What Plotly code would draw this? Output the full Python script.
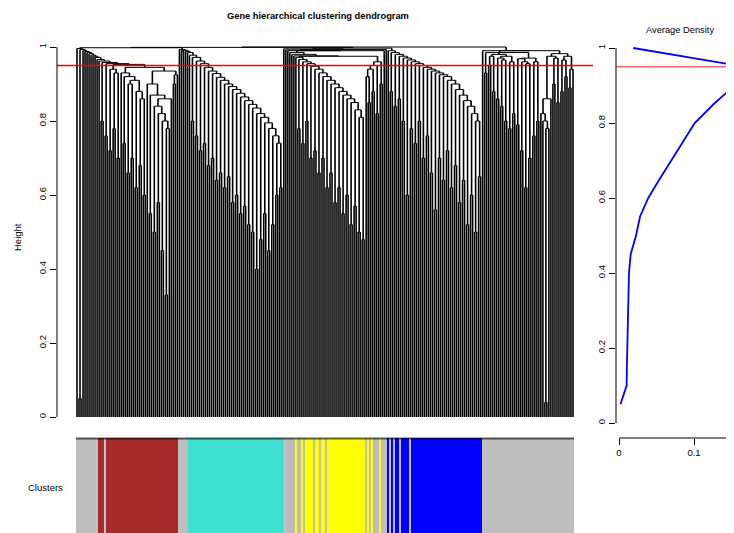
import plotly.graph_objects as go

# the page body keeps its default 8px margin, so the figure is laid out 8px in
OFF = 8
W, H = 734 - OFF, 533 - OFF

# ---------------- data ----------------
# merge heights between neighbouring leaves, per block
heights_A = [0.996, 0.05, 0.993, 0.990, 0.988, 0.985, 0.982, 0.978, 0.975, 0.972,
             0.966, 0.962, 0.80, 0.958, 0.76, 0.955, 0.72, 0.94, 0.78, 0.93,
             0.70, 0.953, 0.93, 0.74, 0.92, 0.66, 0.90, 0.70, 0.91, 0.62,
             0.88, 0.68, 0.86, 0.60, 0.945, 0.90, 0.55, 0.87, 0.50, 0.84,
             0.58, 0.82, 0.45, 0.80, 0.33, 0.78, 0.86, 0.935, 0.90, 0.925]
heights_B = [0.993, 0.990, 0.991, 0.988, 0.985,
             0.978, 0.80, 0.972, 0.76, 0.962, 0.72, 0.955, 0.74, 0.945, 0.68,
             0.935, 0.70, 0.928, 0.64, 0.918, 0.66, 0.91, 0.62, 0.90, 0.65,
             0.893, 0.58, 0.885, 0.60, 0.875, 0.55, 0.865, 0.57, 0.855, 0.52,
             0.845, 0.50, 0.835, 0.40, 0.82, 0.48, 0.81, 0.55, 0.795, 0.45,
             0.78, 0.52, 0.76, 0.60, 0.74, 0.62]
heights_C = [0.995, 0.992, 0.99, 0.985, 0.98, 0.976,
             0.972, 0.78, 0.966, 0.74, 0.96, 0.80, 0.955, 0.70, 0.948, 0.72,
             0.94, 0.66, 0.93, 0.70, 0.92, 0.62, 0.91, 0.66, 0.90, 0.58,
             0.89, 0.62, 0.88, 0.55, 0.87, 0.60, 0.86, 0.52, 0.85, 0.57,
             0.83, 0.50, 0.81, 0.48,
             0.975,
             0.92, 0.85, 0.94, 0.88, 0.95, 0.82, 0.96, 0.90, 0.99, 0.993]
heights_D = [0.99, 0.88, 0.985, 0.84, 0.98, 0.86, 0.975, 0.80, 0.97, 0.60,
             0.965, 0.78, 0.96, 0.74, 0.955, 0.80, 0.95, 0.70, 0.945, 0.76,
             0.94, 0.66, 0.935, 0.56, 0.93, 0.70, 0.925, 0.64, 0.92, 0.72,
             0.91, 0.62, 0.90, 0.68, 0.885, 0.58, 0.87, 0.64, 0.855, 0.52,
             0.84, 0.60, 0.82, 0.50, 0.80, 0.65]
heights_E = [0.99, 0.93, 0.985, 0.95, 0.975, 0.88, 0.98, 0.86, 0.97, 0.84,
             0.965, 0.80, 0.975, 0.78, 0.96, 0.82, 0.985, 0.79, 0.968, 0.72,
             0.96, 0.62, 0.955, 0.70, 0.97, 0.76, 0.96, 0.80, 0.99, 0.82,
             0.80, 0.04, 0.78, 0.86, 0.975, 0.90, 0.97, 0.85, 0.982, 0.88,
             0.965, 0.92, 0.975, 0.89, 0.94]
top_level_merges = [0.998, 0.999, 0.997, 1.0]

# module colour strip: (colour, number of leaves), left to right
palette = ["grey", "brown", "turquoise", "yellow", "blue"]
palette_hex = ["#BEBEBE", "#A52A2A", "#40E0D0", "#FFFF00", "#0000FF"]
module_runs = [("grey", 11), ("brown", 3), ("grey", 1), ("brown", 36), ("grey", 5),
               ("turquoise", 47), ("grey", 6),
               ("yellow", 1), ("grey", 2), ("yellow", 1), ("grey", 1), ("yellow", 4),
               ("grey", 1), ("yellow", 2), ("grey", 1), ("yellow", 2), ("grey", 1),
               ("yellow", 19), ("grey", 1), ("yellow", 1), ("grey", 1), ("yellow", 1),
               ("grey", 3), ("yellow", 1), ("grey", 3),
               ("blue", 1), ("grey", 1), ("blue", 1), ("grey", 1), ("blue", 2),
               ("grey", 1), ("blue", 4), ("grey", 1), ("blue", 1),
               ("blue", 34), ("grey", 46)]

# average density versus cut height
cut_heights = [0.05, 0.10, 0.15, 0.20, 0.25, 0.30, 0.35, 0.40, 0.45, 0.50,
               0.55, 0.60, 0.65, 0.70, 0.75, 0.80, 0.85, 0.90, 0.95, 1.00]
avg_density = [0.002, 0.0102, 0.0105, 0.0109, 0.0112, 0.0116, 0.0124, 0.0133, 0.0156, 0.0227,
               0.028, 0.039, 0.054, 0.070, 0.086, 0.101, 0.126, 0.154, 0.168, 0.019]
cut_line = 0.95

y_ticks = [0, 0.2, 0.4, 0.6, 0.8, 1]
y_ticktext = ["0", "0.2", "0.4", "0.6", "0.8", "1"]
dens_ticks = [0, 0.1, 0.2]
dens_ticktext = ["0", "0.1", "0.2"]

# ---------------- dendrogram layout ----------------
adj = (heights_A + [top_level_merges[0]] + heights_B + [top_level_merges[1]] +
       heights_C + [top_level_merges[2]] + heights_D + [top_level_merges[3]] + heights_E)
N = len(adj) + 1

vx, vy, hx, hy = [], [], [], []


def build(a, b):
    if a == b:
        return float(a), 0.0
    seg = adj[a:b]
    k = a + seg.index(max(seg))
    xl, yl = build(a, k)
    xr, yr = build(k + 1, b)
    hh = adj[k]
    vx.extend([xl, xl, None, xr, xr, None])
    vy.extend([yl, hh, None, yr, hh, None])
    hx.extend([xl, xr, None])
    hy.extend([hh, hh, None])
    return (xl + xr) / 2.0, hh


build(0, N - 1)

codes = []
for name, cnt in module_runs:
    codes.extend([palette.index(name)] * cnt)

cs = []
n = len(palette_hex)
for i, c in enumerate(palette_hex):
    cs.append([i / n, c])
    cs.append([(i + 1) / n, c])

# ---------------- geometry (window pixels -> paper) ----------------
def px(p):
    return (p - OFF) / W


def py(p):
    return 1 - (p - OFF) / H


leaf0, leafN = 77.0, 573.0
step = (leafN - leaf0) / (N - 1)
xr_lo = -(leaf0 - 57) / step
xr_hi = (N - 1) + (593 - leafN) / step
dens_lo, dens_hi = -3 / 750, 115 / 750

FONT = "Liberation Sans"

fig = go.Figure()
fig.add_trace(go.Scatter(x=vx, y=vy, mode="lines", line=dict(color="black", width=1.6),
                         xaxis="x", yaxis="y", hoverinfo="skip", showlegend=False))
fig.add_trace(go.Scatter(x=hx, y=hy, mode="lines", line=dict(color="black", width=1.0),
                         xaxis="x", yaxis="y", hoverinfo="skip", showlegend=False))
# cut height line across the dendrogram panel
fig.add_trace(go.Scatter(x=[xr_lo, xr_hi], y=[cut_line, cut_line], mode="lines",
                         line=dict(color="#FF0000", width=1.5), xaxis="x", yaxis="y",
                         hoverinfo="skip", showlegend=False, cliponaxis=False))
fig.add_trace(go.Heatmap(z=[codes], x=list(range(N)), y=[0], colorscale=cs, zmin=0,
                         zmax=n - 1, showscale=False, xaxis="x2", yaxis="y2",
                         hoverinfo="skip"))
fig.add_trace(go.Scatter(x=[dens_lo, dens_hi], y=[cut_line, cut_line], mode="lines",
                         line=dict(color="rgba(255,0,0,0.6)", width=1.3), xaxis="x3",
                         yaxis="y3", hoverinfo="skip", showlegend=False))
fig.add_trace(go.Scatter(x=avg_density, y=cut_heights, mode="lines",
                         line=dict(color="blue", width=1.8), xaxis="x3", yaxis="y3",
                         hoverinfo="skip", showlegend=False))

axis_common = dict(showgrid=False, zeroline=False, showline=False)
tickfont = dict(family=FONT, size=9.5, color="black")

fig.update_layout(
    width=W, height=H, margin=dict(l=0, r=0, t=0, b=0, autoexpand=False),
    paper_bgcolor="white", plot_bgcolor="white", showlegend=False,
    xaxis=dict(domain=[px(57), px(593)], range=[xr_lo, xr_hi], visible=False, **axis_common),
    yaxis=dict(domain=[py(432), py(32)], range=[-15 / 370, 385 / 370], anchor="x",
               tickvals=y_ticks, ticktext=y_ticktext, ticks="outside", ticklen=6,
               tickcolor="black", tickangle=-90, tickfont=tickfont, **axis_common),
    xaxis2=dict(domain=[px(57), px(593)], range=[xr_lo, xr_hi], visible=False, anchor="y2",
                **axis_common),
    yaxis2=dict(domain=[0, py(438)], range=[-0.5, 0.5], visible=False, anchor="x2",
                **axis_common),
    xaxis3=dict(domain=[px(616), 1], range=[dens_lo, dens_hi], anchor="y3",
                tickvals=dens_ticks, ticktext=dens_ticktext, ticks="outside", ticklen=6,
                tickcolor="black", tickfont=tickfont, **axis_common),
    yaxis3=dict(domain=[py(438), py(33)], range=[-15 / 375, 390 / 375], anchor="x3",
                tickvals=y_ticks, ticktext=y_ticktext, ticks="outside", ticklen=6,
                tickcolor="black", tickangle=-90, tickfont=tickfont, **axis_common),
)

shapes = [
    # axis lines (R style: from first to last tick)
    dict(type="line", xref="paper", yref="y", x0=px(57), x1=px(57), y0=0, y1=1,
         line=dict(color="black", width=1)),
    dict(type="line", xref="paper", yref="y3", x0=px(616), x1=px(616), y0=0, y1=1,
         line=dict(color="black", width=1)),
    dict(type="line", xref="x3", yref="paper", x0=0, x1=dens_hi, y0=py(438), y1=py(438),
         line=dict(color="black", width=1)),
    # colour strip top border
    dict(type="line", xref="paper", yref="paper", x0=px(76), x1=px(574), y0=py(438.5),
         y1=py(438.5), line=dict(color="rgba(0,0,0,0.6)", width=2)),
]
fig.update_layout(shapes=shapes)

ann = [
    dict(text="<b>Gene hierarchical clustering dendrogram</b>", x=px(318), y=py(16),
         xref="paper", yref="paper", showarrow=False, xanchor="center", yanchor="middle",
         font=dict(family=FONT, size=9.3, color="black")),
    dict(text="Height", x=px(17), y=py(237), xref="paper", yref="paper", showarrow=False,
         textangle=-90, xanchor="center", yanchor="middle",
         font=dict(family=FONT, size=9.5, color="black")),
    dict(text="Clusters", x=px(65), y=py(487), xref="paper", yref="paper", showarrow=False,
         xanchor="right", yanchor="middle", font=dict(family=FONT, size=9.5, color="black")),
    dict(text="Average Density", x=px(680), y=py(30), xref="paper", yref="paper",
         showarrow=False, xanchor="center", yanchor="middle",
         font=dict(family=FONT, size=9.3, color="black")),
]
fig.update_layout(annotations=ann)

fig.write_html("out.html")
